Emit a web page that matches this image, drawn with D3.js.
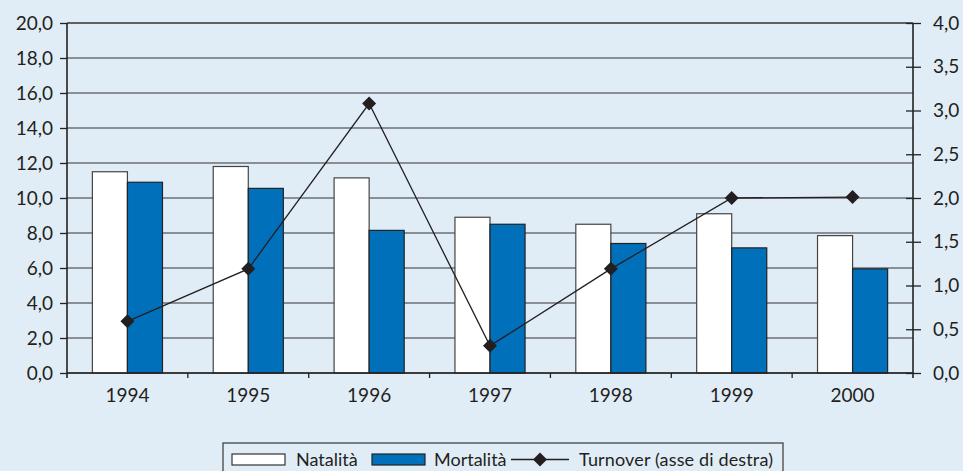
<!DOCTYPE html>
<html lang="it">
<head>
<meta charset="UTF-8">
<title>Natalità, mortalità e turnover 1994-2000</title>
<script src="https://d3js.org/d3.v7.min.js"></script>
<style>
  body { margin: 0; padding: 0; background: #e1edf6; }
  #chart { display: block; }
  .lbl { font-family: Lato, "Noto Sans", sans-serif; font-size: 19px; fill: #231f20; }
  .leg { font-family: Lato, "Noto Sans", sans-serif; font-size: 18px; fill: #231f20; }
</style>
</head>
<body>
<svg id="chart"></svg>
<script>
// data
const years = ['1994', '1995', '1996', '1997', '1998', '1999', '2000'];
const natalita = [11.5, 11.8, 11.15, 8.9, 8.5, 9.1, 7.85];
const mortalita = [10.9, 10.55, 8.15, 8.5, 7.4, 7.15, 5.95];
const turnover = [0.59, 1.19, 3.08, 0.31, 1.19, 2.0, 2.01];
const leftTicks = [0, 2, 4, 6, 8, 10, 12, 14, 16, 18, 20];
const rightTicks = [0, 0.5, 1, 1.5, 2, 2.5, 3, 3.5, 4];

const W = 963, H = 471;
const margin = { top: 23, right: 50, bottom: 98, left: 67 };
const width = W - margin.left - margin.right;
const height = H - margin.top - margin.bottom;
const fmt = d => d3.format('.1f')(d).replace('.', ',');

const svg = d3.select('#chart').attr('width', W).attr('height', H);
const chart = svg.append('g').attr('transform', `translate(${margin.left},${margin.top})`);

// scales
const x = d3.scaleBand().domain(years).range([0, width]).padding(0);
const yL = d3.scaleLinear().domain([0, 20]).range([height, 0]);
const yR = d3.scaleLinear().domain([0, 4]).range([height, 0]);
const barW = x.bandwidth() * 0.29;

// gridlines
chart.append('g')
  .selectAll('line')
  .data(leftTicks)
  .join('line')
  .attr('x1', 0).attr('x2', width)
  .attr('y1', d => yL(d)).attr('y2', d => yL(d))
  .attr('stroke', '#333')
  .attr('stroke-width', d => d === 20 ? 1.6 : 1.2);

// bars
const groups = chart.append('g')
  .selectAll('g')
  .data(years)
  .join('g')
  .attr('transform', d => `translate(${x(d) + x.bandwidth() / 2},0)`);

groups.append('rect')
  .attr('x', -barW)
  .attr('y', (d, i) => yL(natalita[i]))
  .attr('width', barW)
  .attr('height', (d, i) => height - yL(natalita[i]))
  .attr('fill', '#ffffff')
  .attr('stroke', '#444')
  .attr('stroke-width', 1.2);

groups.append('rect')
  .attr('x', 0)
  .attr('y', (d, i) => yL(mortalita[i]))
  .attr('width', barW)
  .attr('height', (d, i) => height - yL(mortalita[i]))
  .attr('fill', '#0070ba')
  .attr('stroke', '#222')
  .attr('stroke-width', 1.2);

// left axis
const axL = chart.append('g')
  .call(d3.axisLeft(yL).tickValues(leftTicks).tickFormat(fmt).tickSize(7).tickSizeOuter(0));
axL.select('.domain').remove();
axL.selectAll('.tick line').attr('stroke', '#222').attr('stroke-width', 1.3);
axL.selectAll('.tick text').attr('class', 'lbl').attr('x', -14).attr('font-family', null).attr('font-size', null);
chart.append('line')
  .attr('x1', 0).attr('x2', 0).attr('y1', 0).attr('y2', height + 5)
  .attr('stroke', '#222').attr('stroke-width', 1.6);

// right axis
const axR = chart.append('g')
  .attr('transform', `translate(${width},0)`)
  .call(d3.axisRight(yR).tickValues(rightTicks).tickFormat(fmt).tickSize(8).tickSizeOuter(0));
axR.select('.domain').remove();
axR.selectAll('.tick line').attr('x1', -7).attr('stroke', '#222').attr('stroke-width', 1.3);
axR.selectAll('.tick text').attr('class', 'lbl').attr('x', 20).attr('font-family', null).attr('font-size', null);
chart.append('line')
  .attr('x1', width).attr('x2', width).attr('y1', 0).attr('y2', height + 5)
  .attr('stroke', '#222').attr('stroke-width', 1.6);

// x axis: baseline, ticks at category boundaries, labels
chart.append('line')
  .attr('x1', 0).attr('x2', width).attr('y1', height).attr('y2', height)
  .attr('stroke', '#222').attr('stroke-width', 1.6);
chart.append('g')
  .selectAll('line')
  .data(years.slice(1))
  .join('line')
  .attr('x1', d => x(d)).attr('x2', d => x(d))
  .attr('y1', height).attr('y2', height + 5)
  .attr('stroke', '#222').attr('stroke-width', 1.3);
chart.append('g')
  .selectAll('text')
  .data(years)
  .join('text')
  .attr('class', 'lbl')
  .attr('x', d => x(d) + x.bandwidth() / 2)
  .attr('y', height + 29)
  .attr('text-anchor', 'middle')
  .text(d => d);

// turnover line (right axis)
const line = d3.line()
  .x((d, i) => x(years[i]) + x.bandwidth() / 2)
  .y(d => yR(d));
chart.append('path')
  .datum(turnover)
  .attr('d', line)
  .attr('fill', 'none')
  .attr('stroke', '#231f20')
  .attr('stroke-width', 1.3);

const diamond = d3.symbol().type(d3.symbolSquare).size(98);
chart.append('g')
  .selectAll('path')
  .data(turnover)
  .join('path')
  .attr('d', diamond)
  .attr('transform', (d, i) => `translate(${x(years[i]) + x.bandwidth() / 2},${yR(d)}) rotate(45)`)
  .attr('fill', '#231f20');

// legend
const leg = svg.append('g');
leg.append('rect')
  .attr('x', 223).attr('y', 443).attr('width', 560).attr('height', 40)
  .attr('fill', 'none').attr('stroke', '#444').attr('stroke-width', 1.3);
leg.append('rect')
  .attr('x', 232).attr('y', 454).attr('width', 53).attr('height', 11)
  .attr('fill', '#fff').attr('stroke', '#333').attr('stroke-width', 1.2);
leg.append('text').attr('class', 'leg').attr('x', 296).attr('y', 466).text('Natalità');
leg.append('rect')
  .attr('x', 372).attr('y', 454).attr('width', 53).attr('height', 11)
  .attr('fill', '#0070ba').attr('stroke', '#222').attr('stroke-width', 1.2);
leg.append('text').attr('class', 'leg').attr('x', 434).attr('y', 466).text('Mortalità');
leg.append('line')
  .attr('x1', 511).attr('x2', 569).attr('y1', 459.5).attr('y2', 459.5)
  .attr('stroke', '#231f20').attr('stroke-width', 1.3);
leg.append('path')
  .attr('d', diamond)
  .attr('transform', 'translate(540,459.5) rotate(45)')
  .attr('fill', '#231f20');
leg.append('text').attr('class', 'leg').attr('x', 579).attr('y', 466).text('Turnover (asse di destra)')
  .attr('textLength', 194).attr('lengthAdjust', 'spacing');
</script>
</body>
</html>
